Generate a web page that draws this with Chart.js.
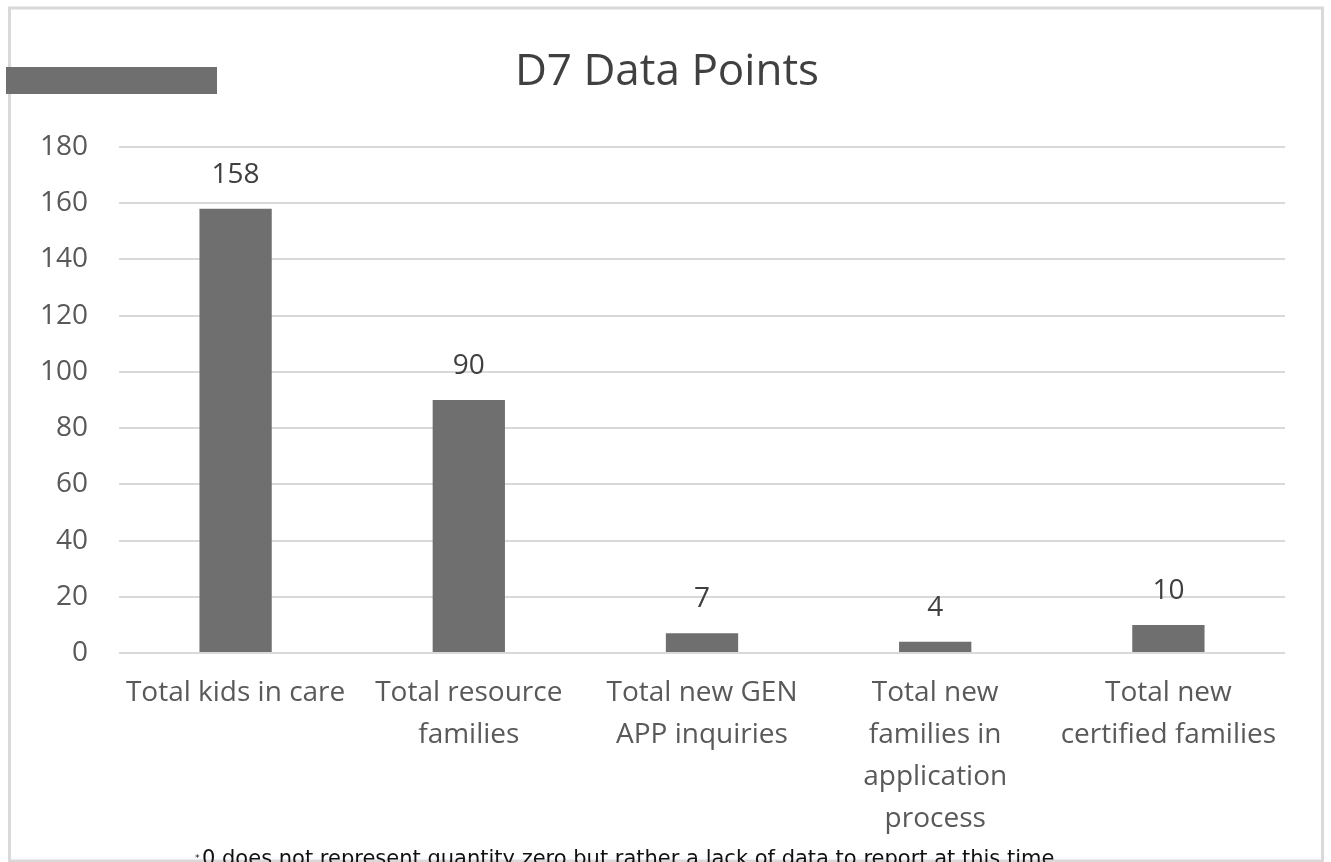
<!DOCTYPE html>
<html lang="en">
<head>
    <meta charset="UTF-8">
    <meta name="viewport" content="width=device-width, initial-scale=1.0">
    <title>D7 Data Points</title>
    <style>
        html, body { margin: 0; padding: 0; background: #fff; overflow: hidden; }
        #wrap { position: relative; width: 1331px; height: 862px; }
    </style>
</head>
<body>
    <div id="wrap"><canvas id="barChart"></canvas></div>

    <script src="https://cdn.jsdelivr.net/npm/chart.js"></script>
    <script>
        // chart data
        const categories = [
            ['Total kids in care'],
            ['Total resource', 'families'],
            ['Total new GEN', 'APP inquiries'],
            ['Total new', 'families in', 'application', 'process'],
            ['Total new', 'certified families']
        ];
        const totals = [158, 90, 7, 4, 10];
        const yMin = 0;
        const yMax = 180;
        const yStep = 20;
        const chartTitle = 'D7 Data Points';
        const footnote = '0 does not represent quantity zero but rather a lack of data to report at this time';

        const FONT = '"Open Sans", "Noto Sans", sans-serif';

        // border, title, redaction box and footnote
        const frame = {
            id: 'frame',
            beforeDraw(chart) {
                const ctx = chart.ctx;
                ctx.save();
                ctx.fillStyle = '#fff';
                ctx.fillRect(0, 0, chart.width, chart.height);
                ctx.strokeStyle = '#d9d9d9';
                ctx.lineWidth = 3;
                ctx.strokeRect(9.5, 8, 1313, 853);
                ctx.restore();
            },
            afterDraw(chart) {
                const ctx = chart.ctx;
                ctx.save();
                ctx.fillStyle = '#404040';
                ctx.font = '44px ' + FONT;
                ctx.textAlign = 'center';
                ctx.textBaseline = 'alphabetic';
                ctx.fillText(chartTitle, 667, 85);

                ctx.fillStyle = '#6f6f6f';
                ctx.fillRect(6, 67, 211, 27);

                ctx.fillStyle = '#111';
                ctx.textAlign = 'left';
                ctx.font = '9px "DejaVu Sans"';
                ctx.fillText('*', 195, 861);
                ctx.font = '21px "DejaVu Sans"';
                ctx.fillText(footnote, 202, 865);
                ctx.restore();
            }
        };

        // value labels above bars
        const valueLabels = {
            id: 'valueLabels',
            afterDatasetsDraw(chart) {
                const ctx = chart.ctx;
                const meta = chart.getDatasetMeta(0);
                ctx.save();
                ctx.font = '28px ' + FONT;
                ctx.fillStyle = '#404040';
                ctx.textAlign = 'center';
                ctx.textBaseline = 'alphabetic';
                meta.data.forEach((bar, i) => {
                    ctx.fillText(String(totals[i]), bar.x, bar.y - 26);
                });
                ctx.restore();
            }
        };

        const ctxBar = document.getElementById('barChart').getContext('2d');

        new Chart(ctxBar, {
            type: 'bar',
            data: {
                labels: categories,
                datasets: [{
                    label: chartTitle,
                    data: totals,
                    backgroundColor: '#6f6f6f',
                    borderWidth: 0,
                    categoryPercentage: 1,
                    barPercentage: 0.31
                }]
            },
            options: {
                responsive: true,
                maintainAspectRatio: false,
                animation: false,
                layout: { padding: { top: 147, right: 46, bottom: 0, left: 0 } },
                plugins: {
                    legend: { display: false },
                    title: { display: false },
                    tooltip: { enabled: false }
                },
                scales: {
                    x: {
                        grid: { display: false, drawTicks: false },
                        border: { display: false },
                        ticks: {
                            color: '#595959',
                            font: { family: FONT, size: 28, lineHeight: 1.5 },
                            padding: 19,
                            maxRotation: 0,
                            autoSkip: false
                        },
                        afterFit(scale) { scale.height = 209; }
                    },
                    y: {
                        min: yMin,
                        max: yMax,
                        grid: { color: '#d9d9d9', lineWidth: 2, drawTicks: false },
                        border: { display: false },
                        ticks: {
                            stepSize: yStep,
                            color: '#595959',
                            font: { family: FONT, size: 28 },
                            padding: 31
                        },
                        afterFit(scale) { scale.width = 119; }
                    }
                }
            },
            plugins: [frame, valueLabels]
        });
    </script>
</body>
</html>
